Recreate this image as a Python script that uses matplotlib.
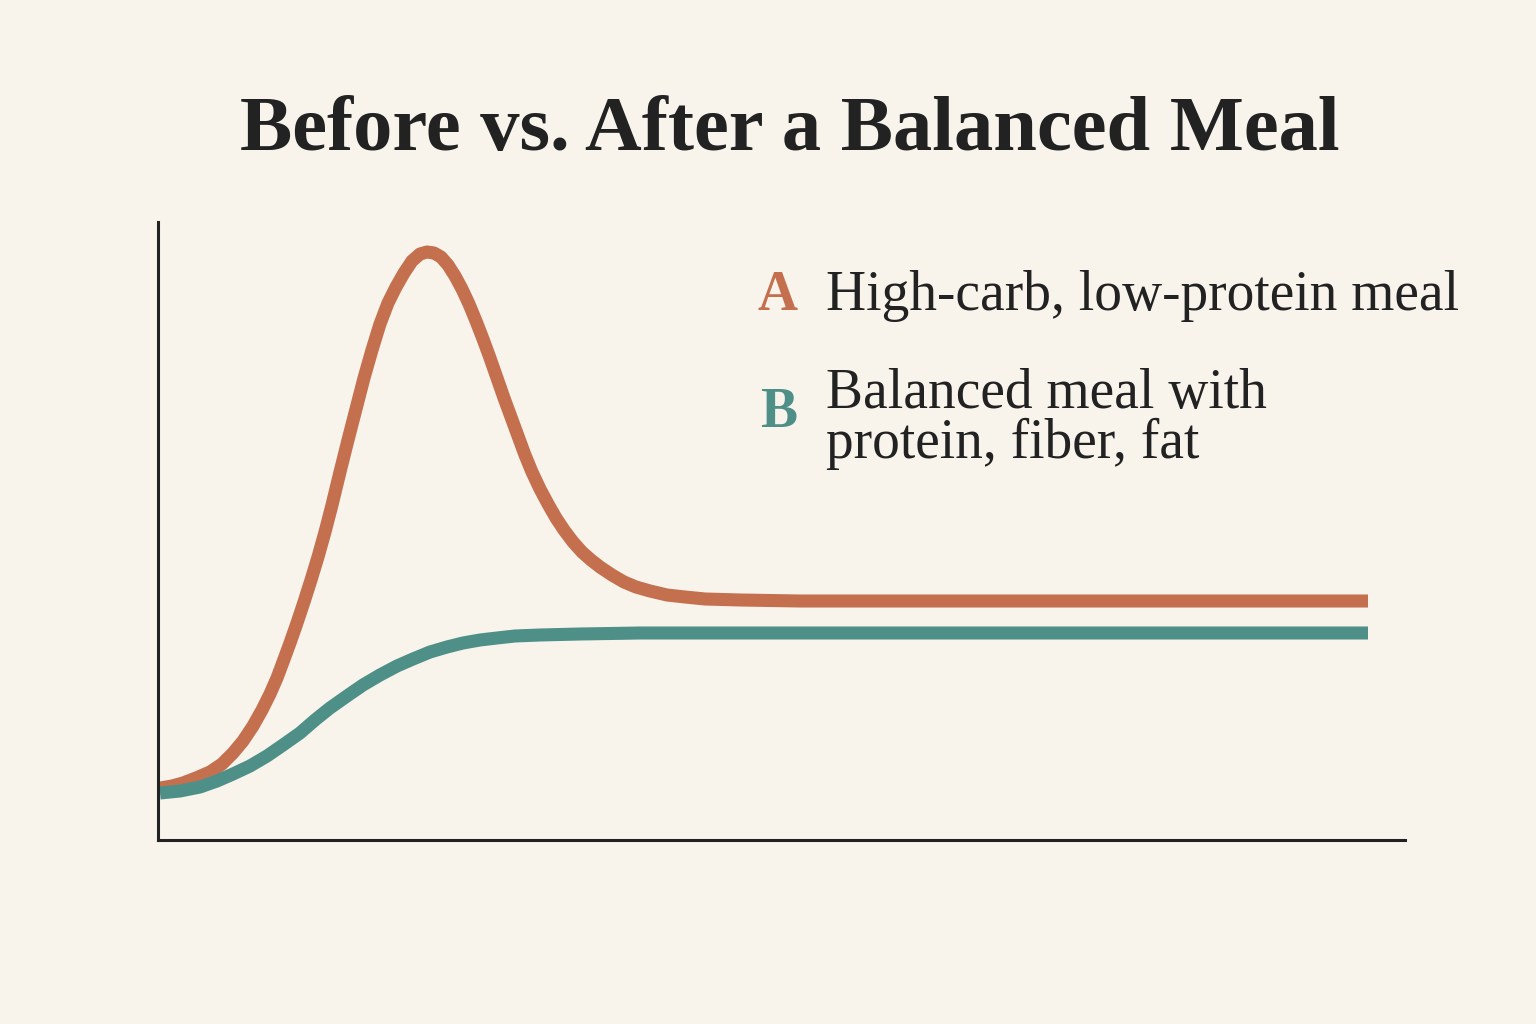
import matplotlib
matplotlib.use("Agg")
import matplotlib.pyplot as plt

BG, INK = "#f8f4ec", "#222222"
ORANGE, TEAL = "#c4704f", "#4e9088"

# time after meal vs. blood-sugar level (arbitrary units)
t_a = [2, 14, 25, 38, 52, 64, 75, 85, 95, 104, 112, 119, 125, 132, 139, 146, 153, 160,
       167, 174, 182, 190, 198, 206, 214, 222, 230, 238, 246, 254, 262, 269, 276, 283,
       290, 297, 304, 311, 318, 325, 332, 339, 346, 353, 360, 367, 374, 382, 390, 398,
       406, 415, 424, 433, 442, 454, 466, 478, 492, 509, 527, 547, 582, 642, 1210]
y_a = [52, 54, 57, 62, 68, 76, 87, 99, 114, 130, 146, 162, 178, 197, 217, 238, 260, 283,
       308, 335, 368, 400, 431, 462, 490, 516, 537, 553, 567, 579, 586, 588, 587, 583,
       575, 564, 551, 536, 519, 501, 482, 462, 442, 423, 404, 385, 368, 351, 336, 322,
       310, 298, 288, 280, 273, 265, 258, 253, 249, 245, 243, 241, 240, 239, 239]

t_b = [2, 22, 42, 59, 75, 92, 109, 125, 142, 157, 172, 189, 205, 222, 239, 255, 272,
       289, 305, 322, 339, 357, 382, 422, 482, 1210]
y_b = [47, 49, 53, 59, 66, 74, 84, 95, 107, 120, 132, 144, 155, 165, 174, 181, 188,
       193, 197, 200, 202, 204, 205, 206, 207, 207]

title = "Before vs. After a Balanced Meal"
keys = ["A", "B"]
label_a = "High-carb, low-protein meal"
label_b = ["Balanced meal with", "protein, fiber, fat"]

W, H = 1536, 1024
fig = plt.figure(figsize=(W / 100, H / 100), dpi=100, facecolor=BG)
ax = fig.add_axes([158 / W, 1 - 840 / H, (1405 - 158) / W, (840 - 222) / H])
ax.set_facecolor(BG)
ax.set_xlim(0, 1247)
ax.set_ylim(0, 618)
for s in ["top", "right"]:
    ax.spines[s].set_visible(False)
for s in ["left", "bottom"]:
    ax.spines[s].set_color(INK)
    ax.spines[s].set_linewidth(2.2)
ax.set_xticks([]); ax.set_yticks([])

ax.plot(t_a, y_a, color=ORANGE, lw=9.4, solid_capstyle="butt", solid_joinstyle="round")
ax.plot(t_b, y_b, color=TEAL, lw=9.4, solid_capstyle="butt", solid_joinstyle="round")

serif = ["Liberation Serif", "DejaVu Serif"]
fig.text(790 / W, 1 - 150 / H, title, ha="center", va="baseline", fontsize=56.5,
         fontweight="bold", color=INK, family=serif)

fig.text(757 / W, 1 - 310 / H, keys[0], ha="left", va="baseline", fontsize=40,
         fontweight="bold", color=ORANGE, family=serif)
fig.text(826 / W, 1 - 310 / H, label_a, ha="left", va="baseline", fontsize=40,
         color=INK, family=serif)
fig.text(760 / W, 1 - 427 / H, keys[1], ha="left", va="baseline", fontsize=40,
         fontweight="bold", color=TEAL, family=serif)
fig.text(826 / W, 1 - 408 / H, label_b[0], ha="left", va="baseline", fontsize=40,
         color=INK, family=serif)
fig.text(826 / W, 1 - 458 / H, label_b[1], ha="left", va="baseline", fontsize=40,
         color=INK, family=serif)

fig.savefig("out.png", facecolor=BG)
